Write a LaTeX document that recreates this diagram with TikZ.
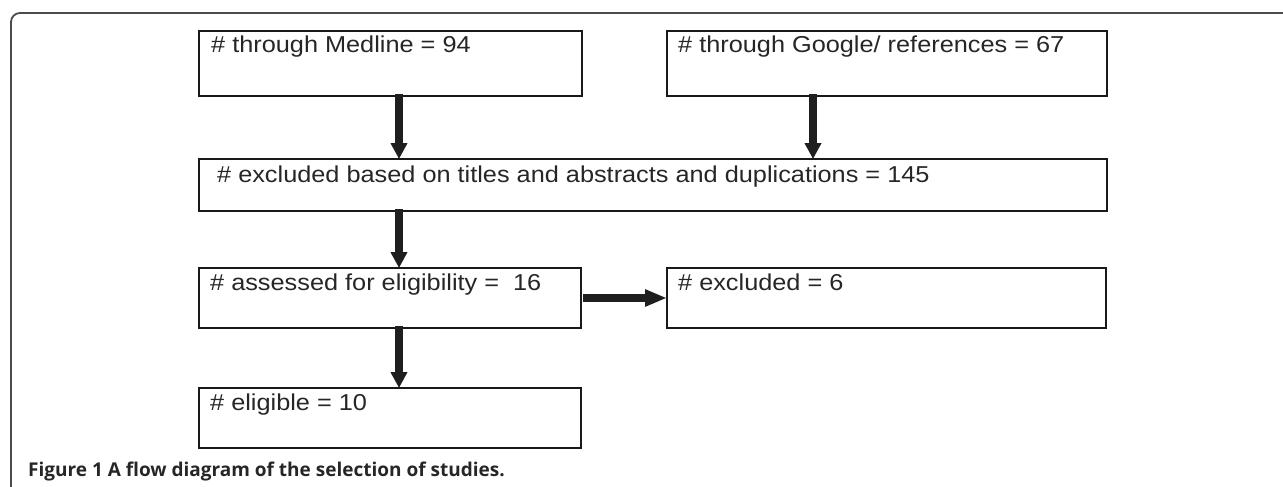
\documentclass[tikz,border=0pt]{standalone}
\usepackage{fontspec}
\setmainfont{Liberation Sans}
\newfontfamily\boxfont[FakeStretch=1.1]{Liberation Sans}
\newfontfamily\capfont{Open Sans}
\usetikzlibrary{arrows.meta,calc}
\begin{document}
\begin{tikzpicture}[x=1pt,y=-1pt,
  box/.style={draw=black!90, line width=1.5pt, anchor=north west, inner sep=0pt, outer sep=0pt},
  boxtext/.style={anchor=base west, inner sep=0pt, text=black!85, font=\boxfont\fontsize{23}{26}\selectfont},
  varr/.style={draw=black!88, line width=8.5pt, -{Triangle[width=16pt,length=16pt]}},
  harr/.style={draw=black!88, line width=8.5pt, -{Triangle[width=16pt,length=22pt]}},
  frame/.style={draw=black!70, line width=1.8pt, rounded corners=9pt}]
\useasboundingbox (0,0) rectangle (1283,487);
\draw[frame] (11,490) -- (11,13) -- (1286,13);
% boxes
\node[box, minimum width=383pt, minimum height=65pt] (b1) at (199,31) {};
\node[box, minimum width=440pt, minimum height=65pt] (b2) at (667,31) {};
\node[box, minimum width=908pt, minimum height=52pt] (b3) at (199,159) {};
\node[box, minimum width=382pt, minimum height=60pt] (b4) at (199,268) {};
\node[box, minimum width=439pt, minimum height=60pt] (b5) at (667,268) {};
\node[box, minimum width=382pt, minimum height=60pt] (b6) at (199,388) {};
% texts
\node[boxtext] (t1) at ([shift={(12,22)}]b1.north west) {\# through Medline = 94};
\node[boxtext] (t2) at ([shift={(11,22)}]b2.north west) {\# through Google/ references = 67};
\node[boxtext] (t3) at ([shift={(18,23)}]b3.north west) {\# excluded based on titles and abstracts and duplications = 145};
\node[boxtext] (t4) at ([shift={(11,22)}]b4.north west) {\# assessed for eligibility =\ \ 16};
\node[boxtext] (t5) at ([shift={(11,22)}]b5.north west) {\# excluded = 6};
\node[boxtext] (t6) at ([shift={(11,22)}]b6.north west) {\# eligible = 10};
% arrow columns
\coordinate (cL) at (399,0);
\coordinate (cR) at (813,0);
\draw[varr] ([yshift=2]b1.south -| cL) -- (b3.north -| cL);
\draw[varr] ([yshift=2]b2.south -| cR) -- (b3.north -| cR);
\draw[varr] ([yshift=2]b3.south -| cL) -- (b4.north -| cL);
\draw[harr] ([xshift=2]b4.east) -- (b5.west);
\draw[varr] ([yshift=2]b4.south -| cL) -- (b6.north -| cL);
% caption
\node[anchor=base west, inner sep=0pt, text=black!85, font=\capfont\bfseries\fontsize{19}{22}\selectfont] (cap) at (28,476) {Figure 1 A flow diagram of the selection of studies.};
\end{tikzpicture}
\end{document}
